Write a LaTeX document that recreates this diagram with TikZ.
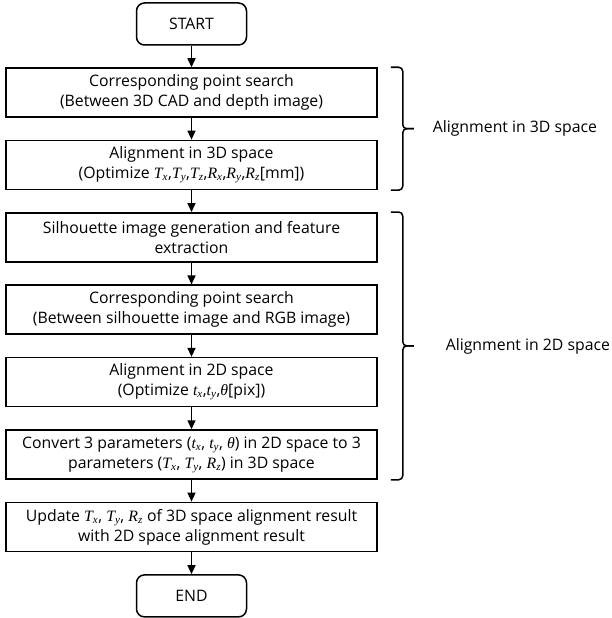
\documentclass[tikz,border=0pt]{standalone}
\usepackage{fontspec}
\usepackage{tikz}
\usetikzlibrary{arrows.meta,calc}
\setmainfont{Open Sans}
\newfontfamily\varfont{Liberation Serif}
% italic serif variable with subscript
\newcommand{\pv}[2]{{\varfont\itshape #1\textsubscript{#2}}}

\begin{document}
\begin{tikzpicture}[->,>={Triangle[length=9pt,width=8pt]},auto,node distance=72.4pt,line width=1.5pt,
  step node/.style={rectangle,draw,minimum width=371pt,minimum height=49pt,
    align=center,inner sep=2pt,font=\fontsize{15.8}{20}\selectfont},
  term node/.style={rectangle,rounded corners=8pt,draw,minimum width=110pt,
    minimum height=42pt,font=\fontsize{15.8}{20}\selectfont},
  label node/.style={anchor=west,font=\fontsize{15.8}{20}\selectfont},
  group brace/.style={-,rounded corners=4pt}]
  \useasboundingbox (0,0) rectangle (612pt,-618pt);

  \node[term node] (start) at (191.5pt,-24pt) {START};
  \node[step node] (s1) [below of=start,node distance=68.5pt]
    {Corresponding point search\\(Between 3D CAD and depth image)};
  \node[step node] (s2) [below of=s1]
    {Alignment in 3D space\\(Optimize \pv{T}{x},\pv{T}{y},\pv{T}{z},\pv{R}{x},\pv{R}{y},\pv{R}{z}[mm])};
  \node[step node] (s3) [below of=s2]
    {Silhouette image generation and feature\\extraction};
  \node[step node] (s4) [below of=s3]
    {Corresponding point search\\(Between silhouette image and RGB image)};
  \node[step node] (s5) [below of=s4]
    {Alignment in 2D space\\(Optimize \pv{t}{x},\pv{t}{y},{\varfont\itshape θ}[pix])};
  \node[step node] (s6) [below of=s5]
    {Convert 3 parameters (\pv{t}{x}, \pv{t}{y}, {\varfont\itshape θ}) in 2D space to 3\\parameters (\pv{T}{x}, \pv{T}{y}, \pv{R}{z}) in 3D space};
  \node[step node] (s7) [below of=s6]
    {Update \pv{T}{x}, \pv{T}{y}, \pv{R}{z} of 3D space alignment result\\with 2D space alignment result};
  \node[term node] (end) [below of=s7,node distance=69pt] {END};

  \path
    (start) edge (s1)
    (s1) edge (s2)
    (s2) edge (s3)
    (s3) edge (s4)
    (s4) edge (s5)
    (s5) edge (s6)
    (s6) edge (s7)
    (s7) edge (end);

  % braces for the two groups
  \coordinate (b3top) at ([xshift=13pt]s1.north east);
  \coordinate (b3bot) at ([xshift=13pt]s2.south east);
  \coordinate (b3mid) at ($(b3top)!0.5!(b3bot)+(12pt,0)$);
  \coordinate (b2top) at ([xshift=13pt]s3.north east);
  \coordinate (b2bot) at ([xshift=13pt]s6.south east);
  \coordinate (b2mid) at ($(b2top)!0.5!(b2bot)+(12pt,0)$);
  \draw[group brace] (b3top) -| (b3mid) -- ++(11pt,0);
  \draw[group brace] (b3bot) -| (b3mid) -- ++(11pt,0);
  \draw[group brace] (b2top) -| (b2mid) -- ++(11pt,0);
  \draw[group brace] (b2bot) -| (b2mid) -- ++(11pt,0);
  \node[label node] (lbl3d) at ($(b3mid)+(26pt,0)$) {Alignment in 3D space};
  \node[label node] (lbl2d) at ($(b2mid)+(39pt,0)$) {Alignment in 2D space};
\end{tikzpicture}
\end{document}
